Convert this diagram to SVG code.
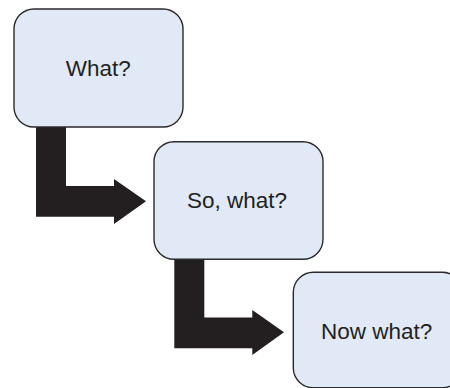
<svg xmlns="http://www.w3.org/2000/svg" width="450" height="388" viewBox="0 0 450 388">
<style>
.box{fill:#e1e9f6;stroke:#2b2b2b;stroke-width:1.4}
.lbl{font-family:"Liberation Sans",Arial,sans-serif;font-size:22.5px;fill:#231f20;text-anchor:middle}
.arr{fill:#231f20;stroke:none}
</style>
<rect width="450" height="388" fill="#ffffff"/>
<g id="connectors">
<path class="arr" d="M36,126 L66,126 L66,186 L114,186 L114,179 L146,201.3 L114,224 L114,216.7 L36,216.7 Z"/>
<path class="arr" d="M174.3,258 L204.3,258 L204.3,317.5 L252.3,317.5 L252.3,310 L284,332.3 L252.3,355 L252.3,348.3 L174.3,348.3 Z"/>
</g>
<g id="node-what">
<rect class="box" x="14" y="9" width="169" height="118" rx="20"/>
<text class="lbl" x="98.3" y="75.7">What?</text>
</g>
<g id="node-so-what">
<rect class="box" x="154" y="141.7" width="169" height="117.6" rx="20"/>
<text class="lbl" x="237" y="208.3">So, what?</text>
</g>
<g id="node-now-what">
<rect class="box" x="293.3" y="272.3" width="169" height="115.5" rx="20"/>
<text class="lbl" x="376.7" y="339.3">Now what?</text>
</g>
</svg>
